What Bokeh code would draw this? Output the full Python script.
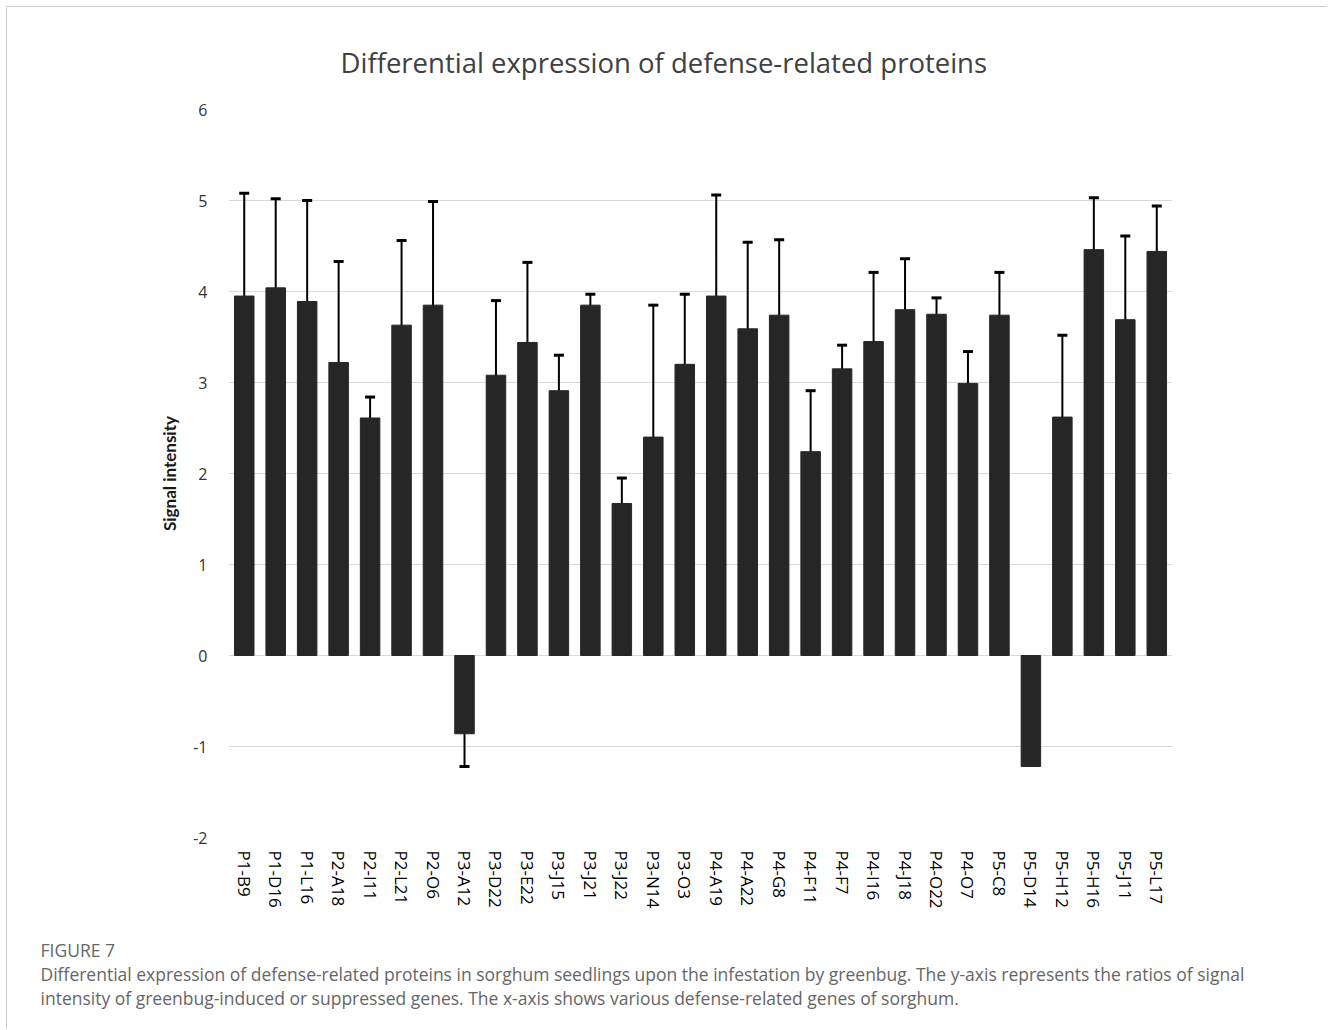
from bokeh.plotting import figure
from bokeh.models import ColumnDataSource, Whisker, TeeHead, Title, FixedTicker
from bokeh.embed import file_html
from bokeh.resources import INLINE

categories = ["P1-B9", "P1-D16", "P1-L16", "P2-A18", "P2-I11", "P2-L21", "P2-O6",
              "P3-A12", "P3-D22", "P3-E22", "P3-J15", "P3-J21", "P3-J22", "P3-N14",
              "P3-O3", "P4-A19", "P4-A22", "P4-G8", "P4-F11", "P4-F7", "P4-I16",
              "P4-J18", "P4-O22", "P4-O7", "P5-C8", "P5-D14", "P5-H12", "P5-H16",
              "P5-J11", "P5-L17"]
values = [3.95, 4.04, 3.89, 3.22, 2.61, 3.63, 3.85,
          -0.86, 3.08, 3.44, 2.91, 3.85, 1.67, 2.40,
          3.20, 3.95, 3.59, 3.74, 2.24, 3.15, 3.45,
          3.80, 3.75, 2.99, 3.74, -1.22, 2.62, 4.46,
          3.69, 4.44]
errors = [1.13, 0.98, 1.11, 1.11, 0.23, 0.93, 1.14,
          0.36, 0.82, 0.88, 0.39, 0.12, 0.28, 1.45,
          0.77, 1.11, 0.95, 0.83, 0.67, 0.26, 0.76,
          0.56, 0.18, 0.35, 0.47, 0.0, 0.90, 0.57,
          0.92, 0.50]
y_ticks = [-2, -1, 0, 1, 2, 3, 4, 5, 6]

title_text = "Differential expression of defense-related proteins"
y_label = "Signal intensity"
fig_label = "FIGURE 7"
caption_1 = ("Differential expression of defense-related proteins in sorghum seedlings upon the infestation "
             "by greenbug. The y-axis represents the ratios of signal")
caption_2 = ("intensity of greenbug-induced or suppressed genes. The x-axis shows various "
             "defense-related genes of sorghum.")

MX, MY = 7, 7
W, H = 1328 - MX, 1030 - MY
FL, FR, FT, FB = 228 - MX, 1172 - MX, 109 - MY, 837 - MY

p = figure(x_range=categories, y_range=(-2, 6), width=W, height=H,
           output_backend="svg", toolbar_location=None,
           min_border_left=FL, min_border_right=W - FR,
           min_border_top=FT, min_border_bottom=H - FB)
p.margin = (MY - 1, 0, 0, MX - 1)
p.styles = {"border-top": "1px solid #cfcfcf", "border-left": "1px solid #cfcfcf"}
p.outline_line_color = None
p.background_fill_color = "white"
p.border_fill_color = "white"

# spacer between frame and main title
p.add_layout(Title(text=" ", text_font_size="11.5px"), "above")
p.title.text = title_text
p.title.text_font = "Open Sans"
p.title.text_font_size = "27.5px"
p.title.text_font_style = "normal"
p.title.text_color = "#404040"
p.title.align = "left"
p.title.offset = 340 - 228

src = ColumnDataSource(dict(cat=categories, val=values))
p.vbar(x="cat", top="val", bottom=0, width=0.62, source=src,
       fill_color="#262626", line_color="#262626")

wc = [c for c, e in zip(categories, errors) if e > 0]
wu = [v + e for v, e in zip(values, errors) if e > 0]
wl = [v - e for v, e in zip(values, errors) if e > 0]
wsrc = ColumnDataSource(dict(base=wc, upper=wu, lower=wl))
w = Whisker(base="base", upper="upper", lower="lower", source=wsrc,
            line_color="black", line_width=2,
            upper_head=TeeHead(size=10, line_color="black", line_width=3),
            lower_head=TeeHead(size=10, line_color="black", line_width=3))
p.add_layout(w)

p.xgrid.grid_line_color = None
p.ygrid.grid_line_color = "#d9d9d9"
p.ygrid.grid_line_width = 1

p.yaxis.ticker = FixedTicker(ticks=y_ticks)
p.yaxis.major_label_overrides = {t: str(t) for t in y_ticks}
p.yaxis.axis_line_color = None
p.yaxis.major_tick_line_color = None
p.yaxis.minor_tick_line_color = None
p.yaxis.major_label_text_font = "Open Sans"
p.yaxis.major_label_text_font_size = "16px"
p.yaxis.major_label_text_color = "#333333"
p.yaxis.major_label_standoff = 15
p.yaxis.axis_label = y_label
p.yaxis.axis_label_text_font = "Lato"
p.yaxis.axis_label_text_font_style = "bold"
p.yaxis.axis_label_text_font_size = "17px"
p.yaxis.axis_label_text_color = "#1a1a1a"
p.yaxis.axis_label_standoff = 10

p.xaxis.axis_line_color = None
p.xaxis.major_tick_line_color = None
p.xaxis.minor_tick_line_color = None
p.xaxis.major_label_orientation = "vertical"
p.xaxis.major_label_text_font = "Open Sans"
p.xaxis.major_label_text_font_size = "17px"
p.xaxis.major_label_text_color = "#000000"
p.xaxis.major_label_standoff = 7

# spacer between axis labels and caption
p.add_layout(Title(text=" ", text_font_size="6.5px"), "below")
p.add_layout(Title(text=fig_label + "\n" + caption_1 + "\n" + caption_2,
                   align="left", offset=40 - 228,
                   text_font="Open Sans", text_font_size="17.5px", text_line_height=1.0,
                   text_color="#666666", text_font_style="normal"), "below")

open("out.html", "w").write(file_html(p, INLINE))
